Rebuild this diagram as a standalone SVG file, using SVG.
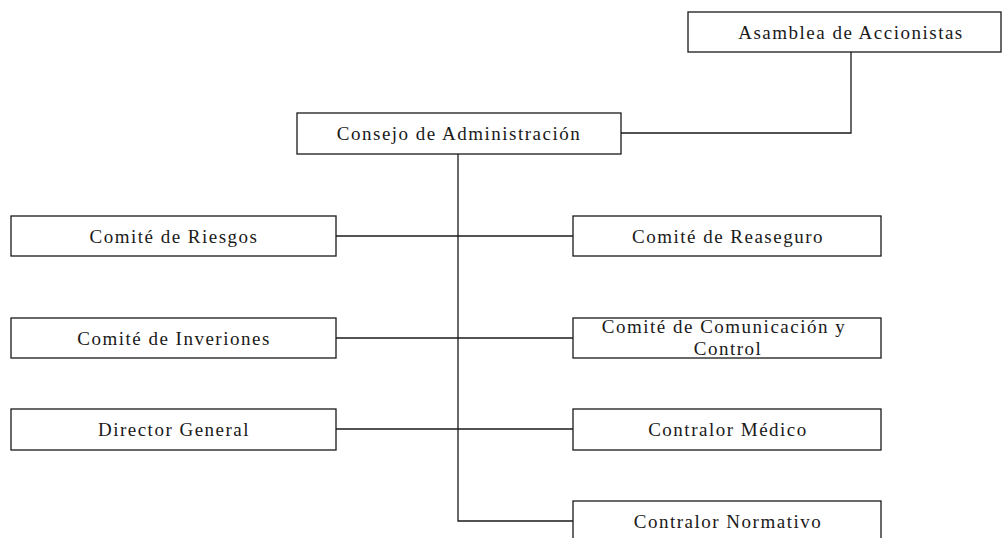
<svg xmlns="http://www.w3.org/2000/svg" width="1002" height="538" viewBox="0 0 1002 538">
<style>
.box{fill:#fff;stroke:#1a1a1a;stroke-width:1.3}
.lbl{font-family:"Liberation Serif","Times New Roman",serif;font-size:19px;letter-spacing:1.5px;fill:#1a1a1a;text-anchor:middle}
.con{fill:none;stroke:#1a1a1a;stroke-width:1.3}
</style>
<rect width="1002" height="538" fill="#fff"/>
<g id="connectors">
<polyline class="con" points="851,52 851,133 621,133"/>
<polyline class="con" points="458,154 458,521 573,521"/>
<line class="con" x1="336" y1="236" x2="573" y2="236"/>
<line class="con" x1="336" y1="338" x2="573" y2="338"/>
<line class="con" x1="336" y1="429" x2="573" y2="429"/>
</g>
<g id="asamblea"><rect class="box" x="688" y="12" width="313" height="40"/><text class="lbl" x="851" y="39">Asamblea de Accionistas</text></g>
<g id="consejo"><rect class="box" x="297" y="113" width="324" height="41"/><text class="lbl" x="459" y="140">Consejo de Administración</text></g>
<g id="riesgos"><rect class="box" x="11" y="216" width="325" height="40"/><text class="lbl" x="174" y="243">Comité de Riesgos</text></g>
<g id="inversiones"><rect class="box" x="11" y="318" width="325" height="40"/><text class="lbl" x="174" y="345">Comité de Inveriones</text></g>
<g id="director"><rect class="box" x="11" y="409" width="325" height="41"/><text class="lbl" x="174" y="436">Director General</text></g>
<g id="reaseguro"><rect class="box" x="573" y="216" width="308" height="40"/><text class="lbl" x="728" y="243">Comité de Reaseguro</text></g>
<g id="comunicacion"><rect class="box" x="573" y="318" width="308" height="40"/><text class="lbl" x="724" y="333">Comité de Comunicación y</text><text class="lbl" x="728" y="355">Control</text></g>
<g id="medico"><rect class="box" x="573" y="409" width="308" height="41"/><text class="lbl" x="728" y="436">Contralor Médico</text></g>
<g id="normativo"><rect class="box" x="573" y="501" width="308" height="41"/><text class="lbl" x="728" y="528">Contralor Normativo</text></g>
</svg>
